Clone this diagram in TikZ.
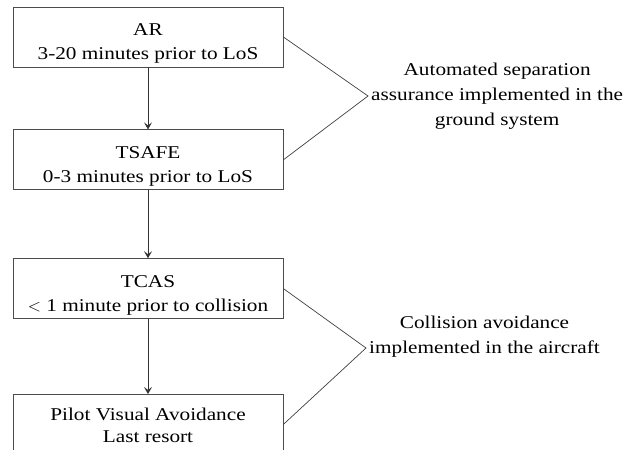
\documentclass[tikz,border=0pt]{standalone}
\usepackage{fontspec}
\setmainfont{Liberation Serif}[FakeStretch=1.18]
\usepackage{tikz}
\usetikzlibrary{positioning,arrows.meta}

\begin{document}
\begin{tikzpicture}[x=1pt,y=-1pt,
      stage/.style={draw=black!70,line width=0.8pt,minimum width=270pt,minimum height=60pt,
        inner sep=0pt,align=center,text height=46pt,text depth=0pt,
        font=\fontsize{18}{24}\selectfont},
      note/.style={align=center,inner xsep=3pt,inner ysep=1pt,font=\fontsize{18}{25}\selectfont},
      flow/.style={draw=black!80,line width=0.8pt,-{Stealth[length=7pt,width=8pt,inset=3pt]}},
      brace/.style={draw=black!75,line width=0.7pt}]

      \useasboundingbox (0,0) rectangle (628,449);

      \node[stage] (ar) at (148,37) {AR\\3-20 minutes prior to LoS};
      \node[stage,below=62pt of ar] (tsafe) {TSAFE\\0-3 minutes prior to LoS};
      \node[stage,below=68pt of tsafe] (tcas) {TCAS\\$<$ 1 minute prior to collision};
      \node[stage,below=75pt of tcas,text height=37pt,font=\fontsize{18}{22}\selectfont] (pilot)
        {Pilot Visual Avoidance\\Last resort};

      \draw[flow] (ar) -- (tsafe);
      \draw[flow] (tsafe) -- (tcas);
      \draw[flow] (tcas) -- (pilot);

      % grouping lines
      \coordinate (ground) at (368,96);
      \coordinate (aircraft) at (366,348);
      \draw[brace] (ar.east) -- (ground) -- (tsafe.east);
      \draw[brace] (tcas.east) -- (aircraft) -- (pilot.east);

      \node[note,right=0pt of ground] (ground-text)
        {Automated separation\\assurance implemented in the\\ground system};
      \node[note,right=0pt of aircraft,yshift=11.5pt] (aircraft-text)
        {Collision avoidance\\implemented in the aircraft};
    \end{tikzpicture}
\end{document}
